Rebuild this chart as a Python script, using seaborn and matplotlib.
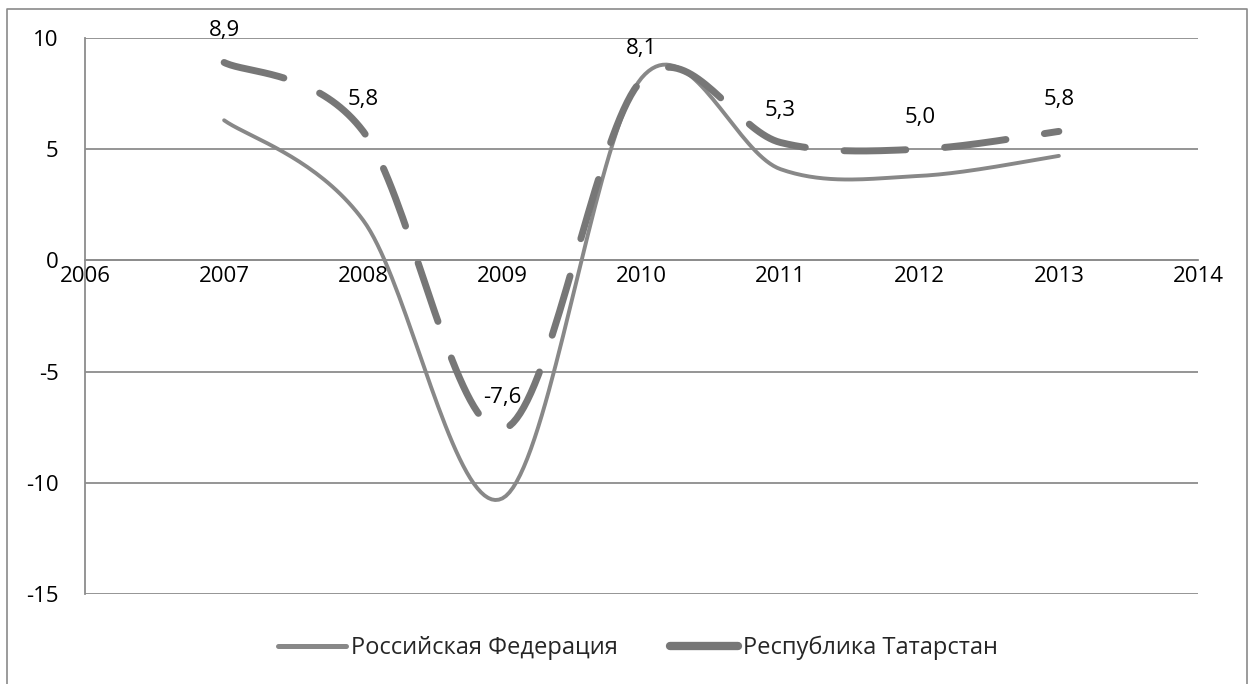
import numpy as np
import pandas as pd
import matplotlib
matplotlib.use('Agg')
import matplotlib.pyplot as plt
import seaborn as sns
from matplotlib.lines import Line2D

# данные
years = [2007, 2008, 2009, 2010, 2011, 2012, 2013]
russia = [6.3, 1.8, -10.7, 8.2, 4.1, 3.8, 4.7]
tatarstan = [8.9, 5.8, -7.6, 8.1, 5.3, 5.0, 5.8]
tatarstan_labels = ['8,9', '5,8', '-7,6', '8,1', '5,3', '5,0', '5,8']
series_names = ['Российская Федерация', 'Республика Татарстан']
x_ticks = list(range(2006, 2015))
y_ticks = [-15, -10, -5, 0, 5, 10]
y_tick_labels = ['-15', '-10', '-5', '0', '5', '10']


def excel_smooth(x, y, n=40):
    # сглаживание как в Excel (кривая Безье через точки)
    pts = np.column_stack([x, y]).astype(float)
    p = np.vstack([pts[0], pts, pts[-1]])
    t = np.linspace(0, 1, n)[:, None]
    out = []
    for i in range(1, len(p) - 2):
        p0, p1, p2, p3 = p[i - 1], p[i], p[i + 1], p[i + 2]
        c1 = p1 + (p2 - p0) / 6
        c2 = p2 - (p3 - p1) / 6
        seg = (1 - t) ** 3 * p1 + 3 * (1 - t) ** 2 * t * c1 + 3 * (1 - t) * t ** 2 * c2 + t ** 3 * p2
        out.append(seg if i == 1 else seg[1:])
    return np.vstack(out)


sns.set_style('white')
plt.rcParams['font.family'] = ['Open Sans', 'DejaVu Sans']
plt.rcParams['axes.unicode_minus'] = False

fs = 16

fig = plt.figure(figsize=(12.55, 6.84), dpi=100)
ax = fig.add_axes([85 / 1255, 1 - 594 / 684, (1198 - 85) / 1255, (594 - 38) / 684])

grid_col = '#8c8c8c'
rus_col = '#888888'
tat_col = '#777777'
rus_lw = 2.8
tat_lw = 5.0

rs = excel_smooth(years, russia)
ts = excel_smooth(years, tatarstan)
df_r = pd.DataFrame({'year': rs[:, 0], 'value': rs[:, 1]})
df_t = pd.DataFrame({'year': ts[:, 0], 'value': ts[:, 1]})

sns.lineplot(data=df_r, x='year', y='value', ax=ax, color=rus_col, lw=rus_lw,
             estimator=None, sort=False, solid_capstyle='round')
sns.lineplot(data=df_t, x='year', y='value', ax=ax, color=tat_col, lw=tat_lw,
             estimator=None, sort=False, linestyle=(0, (8.9, 5.6)),
             dash_capstyle='round')

for x, v, lab in zip(years, tatarstan, tatarstan_labels):
    ax.annotate(lab, (x, v), xytext=(0, 23), textcoords='offset points',
                ha='center', va='center', fontsize=fs, color='black')

ax.set_xlim(2006, 2014)
ax.set_ylim(-15, 10)
ax.set_xticks(x_ticks)
ax.set_xticklabels([str(v) for v in x_ticks])
ax.set_yticks(y_ticks)
ax.set_yticklabels(y_tick_labels)
ax.tick_params(axis='both', length=0, labelsize=fs, colors='black')
ax.tick_params(axis='y', pad=19)
ax.tick_params(axis='x', pad=4)
ax.set_xlabel('')
ax.set_ylabel('')

ax.grid(axis='y', color=grid_col, lw=1.3)
ax.grid(axis='x', visible=False)
ax.spines['top'].set_visible(False)
ax.spines['right'].set_visible(False)
ax.spines['bottom'].set_position(('data', 0))
ax.spines['bottom'].set_color(grid_col)
ax.spines['bottom'].set_linewidth(1.3)
ax.spines['left'].set_color(grid_col)
ax.spines['left'].set_linewidth(1.3)
ax.set_axisbelow(True)

handles = [Line2D([0], [0], color=rus_col, lw=3.6, solid_capstyle='round'),
           Line2D([0], [0], color=tat_col, lw=6.0, solid_capstyle='round')]
fig.legend(handles, series_names, loc='center', bbox_to_anchor=(638 / 1255, 1 - 648 / 684),
           ncol=2, frameon=False, fontsize=17, handlelength=2.9, handletextpad=0.2,
           columnspacing=2.2)

# рамка диаграммы
fx = [7 / 1255, 7 / 1255, 1247 / 1255, 1247 / 1255]
fy = [0, 1 - 9 / 684, 1 - 9 / 684, 0]
fig.add_artist(Line2D(fx, fy, color='#8a8a8a', lw=1.2, transform=fig.transFigure))

fig.savefig('out.png', dpi=100)
